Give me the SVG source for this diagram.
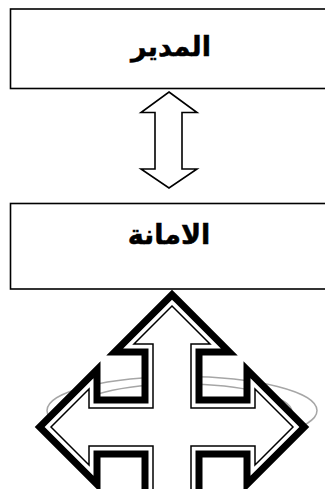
<svg xmlns="http://www.w3.org/2000/svg" width="325" height="489" viewBox="0 0 325 489">
<style>
.box{fill:#fff;stroke:#000;stroke-width:1.6}
.lbl{font-family:"DejaVu Sans",sans-serif;font-weight:bold;font-size:27px;fill:#000;stroke:#000;stroke-width:0.5;text-anchor:middle}
.dbl{fill:#fff;stroke:#000;stroke-width:1.6;stroke-linejoin:miter}
.ring{fill:none;stroke:#a6a6a6;stroke-width:1.5}
</style>
<defs>
<path id="quad" d="M172,306 L210,344 L191,344 L191,408 L255,408 L255,389 L293,427 L255,465 L255,446 L191,446 L191,510 L210,510 L172,548 L134,510 L153,510 L153,446 L89,446 L89,465 L51,427 L89,389 L89,408 L153,408 L153,344 L134,344 Z"/>
</defs>
<rect width="325" height="489" fill="#fff"/>
<g id="node-manager">
<rect class="box" x="10.5" y="9" width="330" height="79.5"/>
<text class="lbl" x="171" y="56">المدير</text>
</g>
<g id="node-secretariat">
<rect class="box" x="10.5" y="203.5" width="330" height="85.5"/>
<text class="lbl" x="169" y="244">الامانة</text>
</g>
<g id="connectors">
<polygon class="dbl" points="169,92 197,112.5 182,112.5 182,169 197,169 169,188 141,169 155,169 155,112.5 141,112.5"/>
</g>
<g id="quad-arrow">
<ellipse class="ring" cx="182" cy="410.5" rx="135" ry="34"/>
<ellipse class="ring" cx="182" cy="412" rx="110" ry="28"/>
<use href="#quad" fill="none" stroke="#000" stroke-width="23" stroke-linejoin="miter"/>
<use href="#quad" fill="none" stroke="#fff" stroke-width="9" stroke-linejoin="miter"/>
<use href="#quad" fill="#fff" stroke="none"/>
<use href="#quad" fill="none" stroke="#000" stroke-width="1.5" stroke-linejoin="miter"/>
</g>
</svg>
